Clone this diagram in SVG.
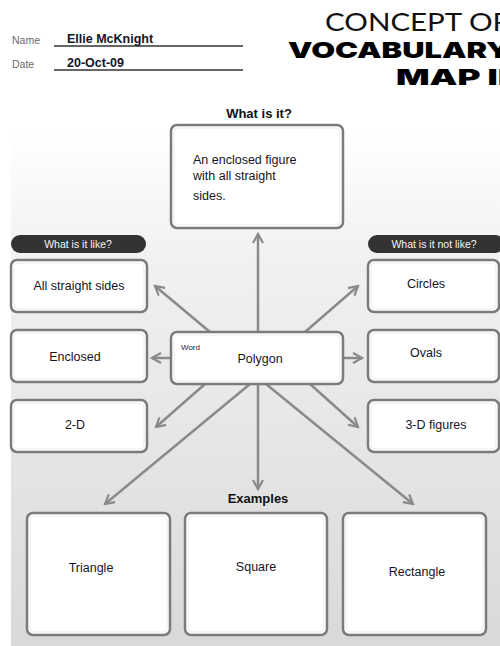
<svg xmlns="http://www.w3.org/2000/svg" width="500" height="646" viewBox="0 0 500 646">
  <defs>
    <linearGradient id="panelFill" x1="0" y1="0" x2="0" y2="1">
      <stop offset="0" stop-color="#ffffff"/>
      <stop offset="0.25" stop-color="#f1f1f1"/>
      <stop offset="1" stop-color="#d9d9da"/>
    </linearGradient>
    <marker id="head" viewBox="0 0 12 12" refX="10" refY="6" markerWidth="12" markerHeight="12" markerUnits="userSpaceOnUse" orient="auto">
      <path d="M1,1 L10,6 L1,11" fill="none" stroke="#8a8a8a" stroke-width="2.2"/>
    </marker>
    <style>
      .box { fill: #ffffff; stroke: #7b7b7b; stroke-width: 2.5; }
      .inner { fill: none; stroke: #ececec; stroke-width: 1; }
      .hand { font-family: "Liberation Sans", "DejaVu Sans", sans-serif; font-size: 12.5px; fill: #141428; }
      .pill { fill: #333333; }
      .pilltxt { font-family: "Liberation Sans", sans-serif; font-size: 10.5px; fill: #f4f4f4; text-anchor: middle; }
      .head { font-family: "Liberation Sans", sans-serif; font-weight: bold; font-size: 13px; fill: #111111; text-anchor: middle; }
      .conn { stroke: #8a8a8a; stroke-width: 2.5; fill: none; marker-end: url(#head); }
      .label { font-family: "Liberation Sans", sans-serif; font-size: 10.5px; fill: #6a6a6a; }
      .rule { stroke: #333333; stroke-width: 1.6; }
      .mid { text-anchor: middle; }
    </style>
  </defs>

  <rect width="500" height="646" fill="#ffffff"/>
  <!-- shaded panel behind the map -->
  <rect x="11" y="130" width="489" height="516" fill="url(#panelFill)"/>

  <!-- header: name and date -->
  <g id="header">
    <text class="label" x="12" y="44">Name</text>
    <line class="rule" x1="54" y1="46" x2="243" y2="46"/>
    <text class="hand" x="67" y="43" font-size="10" font-weight="bold" fill="#1a1a50">Ellie McKnight</text>
    <text class="label" x="12" y="68">Date</text>
    <line class="rule" x1="54" y1="70" x2="243" y2="70"/>
    <text class="hand" x="67" y="67" font-size="10" font-weight="bold" fill="#1a1a50">20-Oct-09</text>
  </g>

  <!-- title -->
  <g id="title">
    <text x="325" y="31" font-family="Lato, 'Liberation Sans', sans-serif" font-weight="400" font-size="25" fill="#111" textLength="186" lengthAdjust="spacingAndGlyphs">CONCEPT OR</text>
    <text x="288" y="58" font-family="Inter, 'DejaVu Sans', sans-serif" font-weight="900" font-size="22" fill="#000" textLength="222" lengthAdjust="spacingAndGlyphs">VOCABULARY</text>
    <text x="396" y="85" font-family="Inter, 'DejaVu Sans', sans-serif" font-weight="900" font-size="22" fill="#000" textLength="112" lengthAdjust="spacingAndGlyphs">MAP II</text>
  </g>

  <!-- connectors -->
  <g id="connectors">
    <line class="conn" x1="258" y1="332" x2="258" y2="234"/>
    <line class="conn" x1="171" y1="358" x2="152" y2="358"/>
    <line class="conn" x1="343" y1="358" x2="362" y2="358"/>
    <line class="conn" x1="210" y1="332" x2="155" y2="286"/>
    <line class="conn" x1="305" y1="332" x2="358" y2="286"/>
    <line class="conn" x1="205" y1="384" x2="156" y2="427"/>
    <line class="conn" x1="310" y1="384" x2="358" y2="427"/>
    <line class="conn" x1="258" y1="384" x2="258" y2="489"/>
    <line class="conn" x1="250" y1="384" x2="105" y2="504"/>
    <line class="conn" x1="266" y1="384" x2="413" y2="504"/>
  </g>

  <!-- definition -->
  <text class="head" x="259" y="118">What is it?</text>
  <g id="definition">
    <rect class="box" x="171" y="125" width="172" height="103" rx="6"/>
    <rect class="inner" x="174" y="128" width="166" height="97" rx="4"/>
    <text class="hand" x="193" y="164">An enclosed figure</text>
    <text class="hand" x="193" y="180">with all straight</text>
    <text class="hand" x="193" y="200">sides.</text>
  </g>

  <!-- word -->
  <g id="word">
    <rect class="box" x="171" y="332" width="172" height="52" rx="6"/>
    <rect class="inner" x="174" y="335" width="166" height="46" rx="4"/>
    <text x="181" y="350" font-family="'Liberation Sans', sans-serif" font-size="8" fill="#1a1a40">Word</text>
    <text class="hand mid" x="260" y="363">Polygon</text>
  </g>

  <!-- what is it like -->
  <g id="like-label">
    <rect class="pill" x="11" y="235" width="135" height="18" rx="9"/>
    <text class="pilltxt" x="78" y="248">What is it like?</text>
  </g>
  <g id="like-1">
    <rect class="box" x="11" y="260" width="136" height="52" rx="6"/>
    <rect class="inner" x="14" y="263" width="130" height="46" rx="4"/>
    <text class="hand mid" x="79" y="290">All straight sides</text>
  </g>
  <g id="like-2">
    <rect class="box" x="11" y="330" width="136" height="52" rx="6"/>
    <rect class="inner" x="14" y="333" width="130" height="46" rx="4"/>
    <text class="hand mid" x="75" y="361">Enclosed</text>
  </g>
  <g id="like-3">
    <rect class="box" x="11" y="400" width="136" height="52" rx="6"/>
    <rect class="inner" x="14" y="403" width="130" height="46" rx="4"/>
    <text class="hand mid" x="75" y="429">2-D</text>
  </g>

  <!-- what is it not like -->
  <g id="unlike-label">
    <rect class="pill" x="368" y="235" width="136" height="18" rx="9"/>
    <text class="pilltxt" x="434" y="248">What is it not like?</text>
  </g>
  <g id="unlike-1">
    <rect class="box" x="368" y="260" width="131" height="52" rx="6"/>
    <rect class="inner" x="371" y="263" width="125" height="46" rx="4"/>
    <text class="hand mid" x="426" y="288">Circles</text>
  </g>
  <g id="unlike-2">
    <rect class="box" x="368" y="330" width="131" height="52" rx="6"/>
    <rect class="inner" x="371" y="333" width="125" height="46" rx="4"/>
    <text class="hand mid" x="426" y="357">Ovals</text>
  </g>
  <g id="unlike-3">
    <rect class="box" x="368" y="400" width="131" height="52" rx="6"/>
    <rect class="inner" x="371" y="403" width="125" height="46" rx="4"/>
    <text class="hand mid" x="436" y="429">3-D figures</text>
  </g>

  <!-- examples -->
  <text class="head" x="258" y="503">Examples</text>
  <g id="example-1">
    <rect class="box" x="27" y="513" width="143" height="122" rx="6"/>
    <rect class="inner" x="30" y="516" width="137" height="116" rx="4"/>
    <text class="hand mid" x="91" y="572">Triangle</text>
  </g>
  <g id="example-2">
    <rect class="box" x="185" y="513" width="142" height="122" rx="6"/>
    <rect class="inner" x="188" y="516" width="136" height="116" rx="4"/>
    <text class="hand mid" x="256" y="571">Square</text>
  </g>
  <g id="example-3">
    <rect class="box" x="343" y="513" width="143" height="122" rx="6"/>
    <rect class="inner" x="346" y="516" width="137" height="116" rx="4"/>
    <text class="hand mid" x="417" y="576">Rectangle</text>
  </g>
</svg>
